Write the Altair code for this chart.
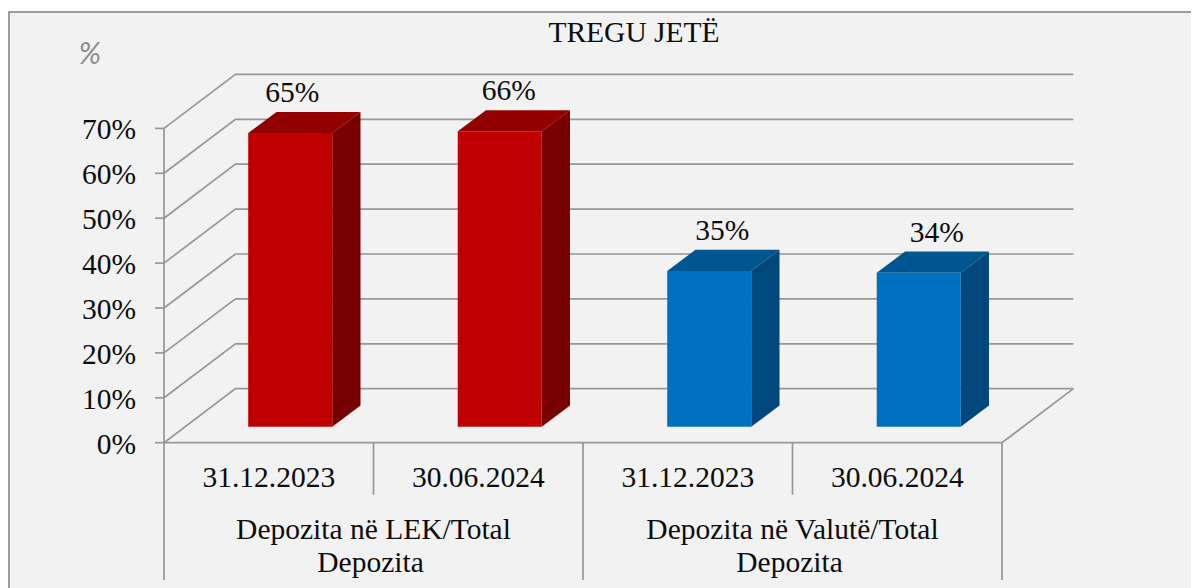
import altair as alt
import pandas as pd

# ---- chart values
categories = ["31.12.2023", "30.06.2024", "31.12.2023", "30.06.2024"]
values = [65.4, 65.8, 34.7, 34.3]
shown_labels = ["65%", "66%", "35%", "34%"]
label_nudge = [2, 9, 13, 18]
groups = [["Depozita në LEK/Total", "Depozita"], ["Depozita në Valutë/Total", "Depozita"]]
ticks = [0, 10, 20, 30, 40, 50, 60, 70]
red = ["#c00000", "#780000", "#930000"]
blue = ["#0070c0", "#00487b", "#005691"]
bar_colors = [red, red, blue, blue]

# ---- 3-D projection, in data units (category widths, percent points)
WALL_DX, WALL_DY = 0.341, 12.03
BAR_DX, BAR_DY = 0.135, 4.7
BAR_LEFT, BAR_W, BAR_LIFT = 0.402, 0.401, 3.56
SHORT_DROP, LONG_DROP = -11.6, -30.6

W, H = 1182, 580
CAT_PX, PCT_PX = 209.5, 4.49
XMIN, XMAX = -155 / CAT_PX, (W - 155) / CAT_PX
YMIN, YMAX = (430.7 - H) / PCT_PX, 430.7 / PCT_PX
x_scale = alt.Scale(domain=[XMIN, XMAX], nice=False, zero=False)
y_scale = alt.Scale(domain=[YMIN, YMAX], nice=False, zero=False)
X = lambda f="x": alt.X(f"{f}:Q", scale=x_scale, axis=None, stack=None, title=None)
Y = lambda f="y": alt.Y(f"{f}:Q", scale=y_scale, axis=None, stack=None, title=None)

# ---- wall, floor, axis lines
rows = []
def seg(name, pts):
    for k, (a, b) in enumerate(pts):
        rows.append({"x": a, "y": b, "seg": name, "k": k})

for t in ticks:
    seg(f"g{t}", [(0, t), (WALL_DX, t + WALL_DY), (4 + WALL_DX, t + WALL_DY)])
    seg(f"t{t}", [(-9 / CAT_PX, t), (0, t)])
seg("floor", [(0, 0), (4, 0), (4 + WALL_DX, WALL_DY)])
seg("yaxis", [(0, ticks[-1]), (0, LONG_DROP)])
for i in range(1, 5):
    seg(f"d{i}", [(i, 0), (i, LONG_DROP if i % 2 == 0 else SHORT_DROP)])

lines = (
    alt.Chart(pd.DataFrame(rows))
    .mark_line(color="#979797", strokeWidth=1.7)
    .encode(x=X(), y=Y(), detail="seg:N", order="k:Q")
)

frame = (
    alt.Chart(pd.DataFrame({"x": [XMIN, XMIN, XMAX], "y": [YMIN, YMAX, YMAX], "k": [0, 1, 2]}))
    .mark_line(color="#7f7f7f", strokeWidth=1.5)
    .encode(x=X(), y=Y(), order="k:Q")
)

# ---- bars: front, side and top faces
front, side, top = [], [], []
for i, v in enumerate(values):
    l = i + BAR_LEFT
    r = l + BAR_W
    t = v + BAR_LIFT
    front.append({"x": l, "x2": r, "y": BAR_LIFT, "y2": t, "c": bar_colors[i][0]})
    side.append({"x": r, "y": BAR_LIFT, "y2": t, "b": i, "c": bar_colors[i][1]})
    side.append({"x": r + BAR_DX, "y": BAR_LIFT + BAR_DY, "y2": t + BAR_DY, "b": i, "c": bar_colors[i][1]})
    top.append({"y": t, "x": l, "x2": r, "b": i, "c": bar_colors[i][2]})
    top.append({"y": t + BAR_DY, "x": l + BAR_DX, "x2": r + BAR_DX, "b": i, "c": bar_colors[i][2]})

front_l = alt.Chart(pd.DataFrame(front)).mark_rect().encode(
    x=X(), x2="x2:Q", y=Y(), y2="y2:Q", color=alt.Color("c:N", scale=None))
side_l = alt.Chart(pd.DataFrame(side)).mark_area(orient="vertical").encode(
    x=X(), y=Y(), y2="y2:Q", detail="b:N", color=alt.Color("c:N", scale=None))
top_l = alt.Chart(pd.DataFrame(top)).mark_area(orient="horizontal").encode(
    y=Y(), x=X(), x2="x2:Q", detail="b:N", color=alt.Color("c:N", scale=None))

# ---- text
FONT = "Liberation Serif"
SIZE = 29.5
INK = "#0d0d0d"

def text_layer(df, **kw):
    opts = dict(font=FONT, fontSize=SIZE, color=INK, baseline="middle", align="center")
    opts.update(kw)
    return alt.Chart(df).mark_text(**opts).encode(x=X(), y=Y(), text="t:N")

tick_df = pd.DataFrame({"x": [-28 / CAT_PX] * len(ticks), "y": ticks, "t": [f"{t}%" for t in ticks]})
cat_df = pd.DataFrame({"x": [i + 0.5 for i in range(4)], "y": [-7.9] * 4, "t": categories})
val_df = pd.DataFrame({
    "x": [i + BAR_LEFT + BAR_W / 2 + n / CAT_PX for i, n in enumerate(label_nudge)],
    "y": [v + BAR_LIFT + 8.9 for v in values],
    "t": shown_labels,
})
grp_rows = []
for g, (a, b) in enumerate(groups):
    grp_rows.append({"x": 2 * g + 1, "y": -19.5, "t": a})
    grp_rows.append({"x": 2 * g + 1 - 3 / CAT_PX, "y": -26.9, "t": b})
grp_df = pd.DataFrame(grp_rows)
title_df = pd.DataFrame({"x": [470 / CAT_PX], "y": [91.3], "t": ["TREGU JETË"]})
unit_df = pd.DataFrame({"x": [-74 / CAT_PX], "y": [86.4], "t": ["%"]})

chart = (
    alt.layer(
        frame, lines, side_l, top_l, front_l,
        text_layer(tick_df, align="right", dy=2),
        text_layer(cat_df),
        text_layer(val_df),
        text_layer(grp_df),
        text_layer(title_df),
        text_layer(unit_df, font="Lato", fontStyle="italic", fontSize=30, color="#8c8c8c"),
    )
    .properties(
        width=W, height=H,
        padding={"left": 1, "top": 4, "right": 0, "bottom": 0},
        autosize=alt.AutoSizeParams(type="none"),
        background="white",
    )
    .configure_view(fill="#f2f2f2", stroke=None)
)

chart.save("out.html", embed_options={"renderer": "svg", "actions": False})
